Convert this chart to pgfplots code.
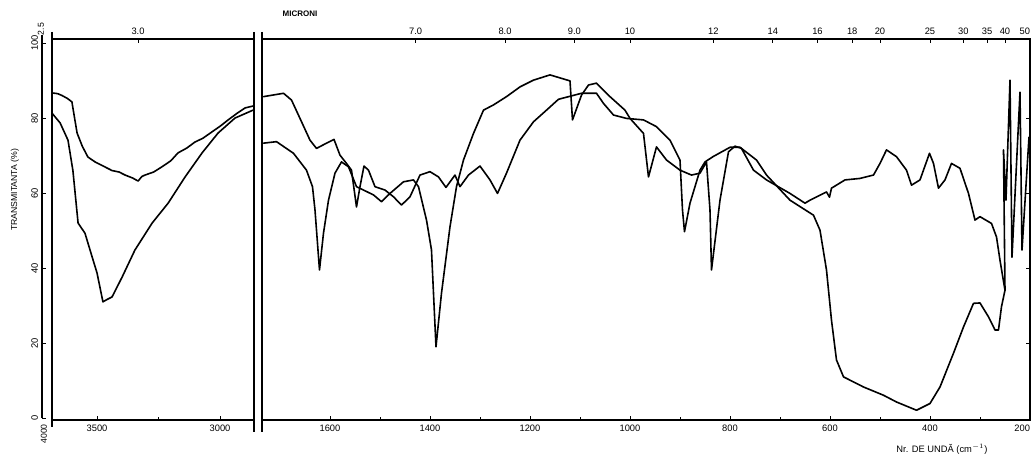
\documentclass[border=0pt]{standalone}
\usepackage{fontspec}
\setmainfont{Liberation Sans}
\usepackage{pgfplots}
\pgfplotsset{compat=1.18}
\pgfplotsset{
  irbase/.style={
    scale only axis, anchor=south west, height=285.75pt,
    ymin=-0.5, ymax=101.07, x dir=reverse,
    axis line style={line width=0.9pt, black},
    tick style={line width=0.6pt, black},
    tick label style={font=\fontsize{7}{8}\selectfont},
    /pgf/number format/assume math mode=true,
    major tick length=3pt, minor tick length=2pt,
    tick align=inside,
  },
  curve/.style={black, line width=1.2pt, line join=round, line cap=round, mark=none},
}
\begin{document}
\begin{tikzpicture}
\useasboundingbox (0,0) rectangle (774.75pt,342pt);
% ---------- left panel ----------
\begin{axis}[irbase, at={(39pt,27pt)}, width=151.5pt,
  xmin=2862, xmax=3683,
  xtick={3500,3000}, xticklabels={3500,3000}, minor xtick={3250},
  xtick pos=left, ytick pos=left,
  ytick={0,20,40,60,80,100}, yticklabels={0,20,40,60,80,100},
  every y tick/.append style={xshift=-7.5pt},
  yticklabel style={rotate=90, anchor=south},
  yticklabel shift=7pt,
]
\addplot[curve] coordinates {
(3683,86.7) (3660,86.5) (3642,86.0) (3620,85.2) (3602,84.3) (3590,79.5) (3581,76.0) (3560,72.5) (3537,69.6) (3508,68.3)
(3475,67.2) (3439,66.0) (3410,65.6) (3386,64.8) (3355,64.0) (3333,63.2) (3318,64.4) (3305,64.8) (3270,65.6) (3236,67.0)
(3200,68.6) (3171,70.7) (3135,72.0) (3102,73.6) (3070,74.6) (3033,76.3) (3000,77.8) (2967,79.5) (2930,81.3) (2898,82.7) (2866,83.2)
};
\addplot[curve] coordinates {
(3683,81.3) (3650,78.7) (3618,74.1) (3598,66.0) (3577,52.0) (3549,49.3) (3520,43.0) (3500,38.7) (3476,31.0) (3460,31.6)
(3439,32.3) (3398,37.6) (3346,44.8) (3276,52.0) (3211,57.3) (3142,64.3) (3073,70.7) (3008,76.0) (2939,80.0) (2866,82.1)
};
\end{axis}
% top micron scale (left)
\begin{axis}[irbase, at={(39pt,27pt)}, width=151.5pt,
  xmin=2862, xmax=3683, axis line style={draw=none},
  xtick={3333.3}, xticklabels={3.0}, xtick pos=right, xticklabel pos=right,
  ytick=\empty]
\end{axis}
% ---------- right panel ----------
\begin{axis}[irbase, at={(196.5pt,27pt)}, width=576pt,
  xmin=200, xmax=1736,
  xtick={1600,1400,1200,1000,800,600,400,200},
  xticklabels={1600,1400,1200,1000,800,600,400,\makebox[0pt][r]{200}},
  minor xtick={1500,1300,1100,900,700,500,300},
  xtick pos=left, ytick pos=right,
  ytick={20,40,60,80}, yticklabels={},
]
\addplot[curve] coordinates {
(1733,85.7) (1693,86.6) (1677,84.8) (1660,79.9) (1640,74.1) (1627,71.9) (1607,73.3) (1592,74.3) (1580,70.1) (1567,67.9)
(1557,66.1) (1547,56.3) (1540,61.7) (1532,67.2) (1523,66.1) (1510,61.7) (1490,60.8) (1473,59.0) (1457,56.8) (1440,59.0)
(1420,64.8) (1400,65.7) (1383,64.3) (1368,61.5) (1350,64.8) (1340,61.7) (1323,64.8) (1300,67.2) (1280,63.5) (1265,59.9)
(1247,65.3) (1220,74.1) (1193,79.0) (1167,82.1) (1143,85.0) (1117,85.9) (1097,86.6) (1067,86.6) (1053,83.9) (1033,80.8)
(1007,79.9) (973,79.5) (947,77.7) (920,74.1) (900,68.8) (895,55.5) (891,49.7) (880,57.3) (860,66.1) (850,68.3)
(834,69.7) (800,72.2) (780,72.2) (747,68.8) (727,64.8) (680,58.1) (633,54.1) (620,50.1) (607,39.5) (597,26.1)
(587,15.5) (573,11.0) (533,8.3) (493,6.1) (467,4.3) (427,2.1) (400,3.9) (380,8.3) (353,17.3) (333,24.3)
(313,30.6) (300,30.7) (283,27.0) (270,23.5) (263,23.5) (257,29.7) (250,34.1) (253,71.5) (248,58.1) (240,90.1)
(236,42.9) (220,86.9) (216,44.8) (202,74.9)
};
\addplot[curve] coordinates {
(1733,73.3) (1707,73.7) (1673,70.6) (1647,66.1) (1635,61.7) (1630,55.5) (1621,39.5) (1613,49.3) (1603,58.1) (1590,65.3)
(1577,68.3) (1563,67.0) (1547,61.7) (1533,60.8) (1513,59.5) (1497,57.7) (1480,59.9) (1453,63.0) (1433,63.5) (1423,61.7)
(1407,52.8) (1397,44.8) (1388,19.0) (1377,33.3) (1360,51.0) (1347,61.7) (1333,68.8) (1313,75.9) (1293,82.1) (1273,83.5)
(1247,85.7) (1220,88.3) (1193,90.1) (1160,91.5) (1120,89.9) (1115,79.5) (1097,86.1) (1083,88.8) (1067,89.3) (1040,85.7)
(1010,82.1) (1000,79.9) (973,75.9) (963,64.3) (947,72.3) (927,68.8) (900,66.1) (877,64.8) (860,65.3) (847,68.3)
(840,55.5) (837,39.5) (820,58.1) (803,71.0) (790,72.5) (777,71.9) (753,66.1) (727,63.5) (680,59.9) (650,57.3)
(640,58.1) (607,60.3) (601,58.9) (597,61.3) (570,63.5) (540,63.9) (513,64.8) (500,67.9) (487,71.5) (467,69.7)
(447,66.1) (437,62.1) (420,63.5) (401,70.6) (393,67.9) (383,61.3) (370,63.5) (357,67.9) (340,66.6) (323,59.9)
(310,52.8) (300,53.7) (277,51.9) (267,48.3) (260,42.1) (250,34.1)
};
\end{axis}
% top micron scale (right)
\begin{axis}[irbase, at={(196.5pt,27pt)}, width=576pt,
  xmin=200, xmax=1736, axis line style={draw=none},
  xtick={1428.6,1250,1111.1,1000,833.3,714.3,625,555.6,500,400,333.3,285.7,250,200},
  xticklabels={7.0,8.0,9.0,10,12,14,16,18,20,25,30,35,40,\makebox[0pt][r]{50}},
  xtick pos=right, xticklabel pos=right,
  ytick=\empty]
\end{axis}
% ---------- frame extensions and texts ----------
\begin{scope}[x=0.75pt,y=0.75pt]
\draw[line width=0.9pt] (52,424) -- (52,29);
\draw[line width=0.9pt] (254,424) -- (254,24);
\draw[line width=0.9pt] (262,424) -- (262,24);
\draw[line width=0.9pt] (42,421) -- (42,38);
\node[font=\fontsize{6}{7}\selectfont\bfseries] at (300,442) {MICRONI};
\node[rotate=90, font=\fontsize{6.5}{7}\selectfont] at (15,266) {TRANSMITANTA (\%)};
\node[font=\fontsize{7}{8}\selectfont] at (942,7) {Nr. DE UNDĂ (cm$^{-1}$)};
\node[rotate=90, font=\fontsize{6.5}{7}\selectfont] at (44,22) {4000};
\node[rotate=90, font=\fontsize{6.5}{7}\selectfont] at (41,427) {2.5};
\end{scope}
\end{tikzpicture}
\end{document}
